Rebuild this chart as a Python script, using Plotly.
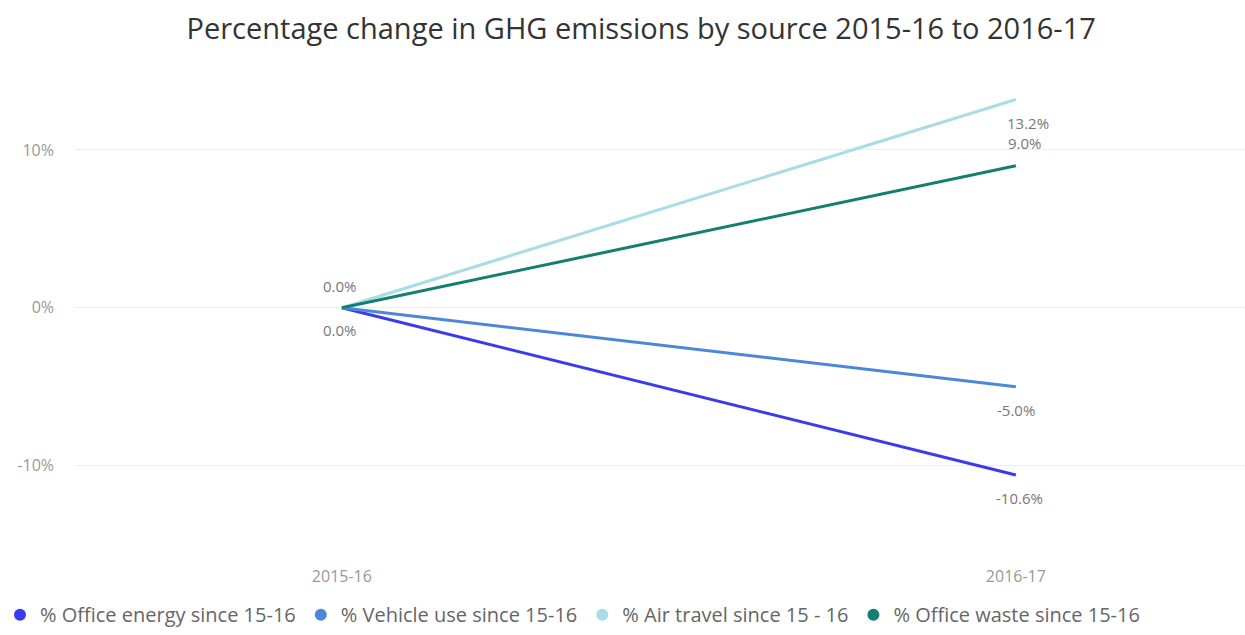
import plotly.graph_objects as go

periods = ["2015-16", "2016-17"]
series_names = [
    "% Office energy since 15-16",
    "% Vehicle use since 15-16",
    "% Air travel since 15 - 16",
    "% Office waste since 15-16",
]
office_energy = [0.0, -10.6]
vehicle_use = [0.0, -5.0]
air_travel = [0.0, 13.2]
office_waste = [0.0, 9.0]

colors = ["#3a3af0", "#4d88d6", "#a9dce8", "#137f6e"]
values = [office_energy, vehicle_use, air_travel, office_waste]

fig = go.Figure()
for name, vals, col in zip(series_names, values, colors):
    fig.add_trace(go.Scatter(
        x=periods, y=vals, name=name, mode="lines",
        line=dict(color=col, width=3), showlegend=False,
    ))
# legend entries with circular swatches
for name, col in zip(series_names, colors):
    fig.add_trace(go.Scatter(
        x=[None], y=[None], name=name, mode="markers",
        marker=dict(size=15, color=col, symbol="circle"),
    ))

# data labels: (series index, point index, x shift, y shift)
label_spec = [
    (2, 0, -2, 22),
    (0, 0, -2, -22),
    (2, 1, 12, -24),
    (3, 1, 9, 23),
    (1, 1, 0, -23),
    (0, 1, 4, -23),
]
for si, pi, xs, ys in label_spec:
    v = values[si][pi]
    fig.add_annotation(
        x=periods[pi], y=v, text=f"{v:.1f}%", showarrow=False,
        xshift=xs, yshift=ys,
        font=dict(family="Open Sans, DejaVu Sans", size=15, color="#777777"),
    )

fig.update_layout(
    width=1245, height=635,
    paper_bgcolor="white", plot_bgcolor="white",
    margin=dict(l=75, r=0, t=60, b=70, autoexpand=False),
    title=dict(
        text="Percentage change in GHG emissions by source 2015-16 to 2016-17",
        x=0.515, xanchor="center", y=0.955, yanchor="middle",
        font=dict(family="Open Sans, DejaVu Sans", size=29, color="#333333"),
    ),
    showlegend=True,
    legend=dict(
        orientation="h", xref="container", x=-0.012, xanchor="left",
        yref="container", y=0.032, yanchor="middle",
        font=dict(family="Open Sans, DejaVu Sans", size=20, color="#666666"),
        itemsizing="constant", itemwidth=30, tracegroupgap=0,
    ),
    font=dict(family="Open Sans, DejaVu Sans"),
)
fig.update_xaxes(
    type="category", range=[-0.396, 1.340],
    showgrid=False, zeroline=False, showline=False,
    tickfont=dict(size=16, color="#999999"), ticks="",
)
fig.update_yaxes(
    range=[-16.3, 15.7], tickvals=[-10, 0, 10],
    ticktext=["-10%", "0%", "10%"],
    showgrid=True, gridcolor="#eeeeee", gridwidth=1,
    zeroline=False, showline=False, ticklabelstandoff=20,
    tickfont=dict(size=16, color="#999999"), ticks="",
)

fig.write_html("out.html")
